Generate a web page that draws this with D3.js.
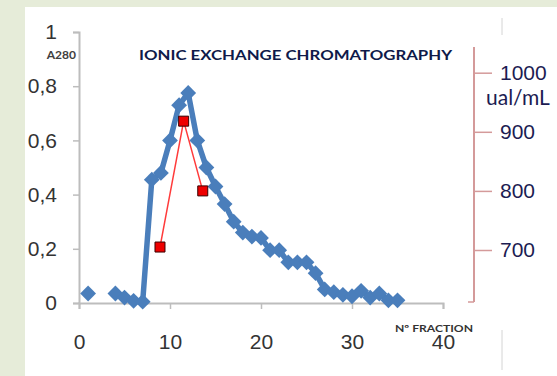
<!DOCTYPE html>
<html>
<head>
<meta charset="utf-8">
<script src="https://cdn.jsdelivr.net/npm/d3@7"></script>
<style>
  html, body { margin: 0; padding: 0; background: #e6ecd9; }
  svg { display: block; }
</style>
</head>
<body>
<div id="chart"></div>
<script>
// fraction numbers and A280 readings (null = not measured)
var fractions = [1, 2, 3, 4, 5, 6, 7, 8, 9, 10, 11, 12, 13, 14, 15, 16, 17, 18,
                 19, 20, 21, 22, 23, 24, 25, 26, 27, 28, 29, 30, 31, 32, 33, 34, 35];
var a280 = [0.035, null, null, 0.035, 0.02, 0.008, 0.005, 0.455, 0.48, 0.60, 0.73, 0.775,
            0.60, 0.50, 0.43, 0.365, 0.30, 0.26, 0.245, 0.24, 0.195, 0.195, 0.15, 0.15,
            0.15, 0.11, 0.05, 0.04, 0.03, 0.025, 0.045, 0.02, 0.035, 0.01, 0.01];

// activity (ual/mL) on the right axis
var activityFractions = [8.9, 11.5, 13.6];
var activity = [705, 918, 800];

var xTicks = [0, 10, 20, 30, 40];
var yTicks = [0, 0.2, 0.4, 0.6, 0.8, 1];
var y2Ticks = [700, 800, 900, 1000];

document.addEventListener('DOMContentLoaded', function () {
    var W = 557, H = 376;

    var svg = d3.select("#chart")
        .append("svg")
        .attr("width", W)
        .attr("height", H)
        .style("font-family", "Lato, 'Open Sans', sans-serif");

    // white slide panel
    svg.append("rect")
        .attr("x", 25).attr("y", 7)
        .attr("width", W - 25).attr("height", H - 7)
        .attr("fill", "#ffffff");

    // faint frame lines on the right of the slide
    svg.append("line").attr("x1", 502).attr("x2", 502).attr("y1", 18).attr("y2", 35)
        .attr("stroke", "#d4d4d4").attr("stroke-width", 1);
    svg.append("line").attr("x1", 502).attr("x2", 502).attr("y1", 330).attr("y2", 370)
        .attr("stroke", "#d4d4d4").attr("stroke-width", 1);

    var x = d3.scaleLinear().domain([0, 40]).range([79, 443]);
    var y = d3.scaleLinear().domain([0, 1]).range([303, 32]);
    var y2 = d3.scaleLinear().domain([700, 1000]).range([250, 72.7]);

    var comma = function(d) { return d === 0 ? "0" : d === 1 ? "1" : d.toFixed(1).replace(".", ","); };

    // left axis
    var yAxis = svg.append("g")
        .attr("transform", "translate(" + x(0) + ",0)")
        .call(d3.axisLeft(y).tickValues(yTicks).tickFormat(comma).tickSize(6).tickPadding(16));
    yAxis.select(".domain").attr("stroke", "#bdbdbd").attr("stroke-width", 2);
    yAxis.selectAll(".tick line").attr("stroke", "#bdbdbd").attr("stroke-width", 1.5);
    yAxis.selectAll(".tick text").attr("fill", "#333333").style("font-size", "21px");

    // bottom axis
    var xAxis = svg.append("g")
        .attr("transform", "translate(0," + y(0) + ")")
        .call(d3.axisBottom(x).tickValues(xTicks).tickSize(6).tickPadding(25));
    xAxis.select(".domain").attr("stroke", "#bdbdbd").attr("stroke-width", 2);
    xAxis.selectAll(".tick line").attr("stroke", "#bdbdbd").attr("stroke-width", 1.5);
    xAxis.selectAll(".tick text").attr("fill", "#333333").style("font-size", "21px");

    // right axis
    var y2Axis = svg.append("g")
        .attr("transform", "translate(474,0)")
        .call(d3.axisRight(y2).tickValues(y2Ticks).tickFormat(d3.format("d")).tickSize(18).tickPadding(8));
    y2Axis.select(".domain").remove();
    y2Axis.append("line")
        .attr("x1", 0).attr("x2", 0)
        .attr("y1", 47).attr("y2", 302)
        .attr("stroke", "#d49a9a").attr("stroke-width", 2);
    y2Axis.append("line")
        .attr("x1", -6).attr("x2", 0)
        .attr("y1", 302).attr("y2", 302)
        .attr("stroke", "#d49a9a").attr("stroke-width", 1.5);
    y2Axis.selectAll(".tick line").attr("stroke", "#d49a9a").attr("stroke-width", 1.5);
    y2Axis.selectAll(".tick text").attr("fill", "#1c1c52").style("font-size", "21px");

    svg.append("text")
        .attr("x", 486).attr("y", 105)
        .attr("fill", "#1c1c52")
        .style("font-size", "21px")
        .text("ual/mL");

    // labels
    svg.append("text")
        .attr("x", 76).attr("y", 59)
        .attr("text-anchor", "end")
        .attr("fill", "#404040")
        .style("font-size", "12px")
        .style("font-weight", "bold")
        .text("A280");

    svg.append("text")
        .attr("x", 139).attr("y", 60)
        .attr("fill", "#0f1a4a")
        .style("font-size", "13px")
        .style("font-weight", "bold")
        .attr("textLength", 313)
        .attr("lengthAdjust", "spacingAndGlyphs")
        .text("IONIC EXCHANGE CHROMATOGRAPHY");

    svg.append("text")
        .attr("x", 395).attr("y", 332)
        .attr("fill", "#333333")
        .style("font-size", "10px")
        .style("font-weight", "bold")
        .attr("textLength", 78)
        .attr("lengthAdjust", "spacingAndGlyphs")
        .text("Nº FRACTION");

    // A280 series
    var blue = "#4a7ebb";
    var pts = fractions.map(function(f, i) { return { f: f, v: a280[i] }; });

    var line = d3.line()
        .defined(function(d) { return d.v !== null; })
        .x(function(d) { return x(d.f); })
        .y(function(d) { return y(d.v); });

    svg.append("path")
        .datum(pts)
        .attr("d", line)
        .attr("fill", "none")
        .attr("stroke", blue)
        .attr("stroke-width", 5.5)
        .attr("stroke-linejoin", "round");

    svg.selectAll(".diamond")
        .data(pts.filter(function(d) { return d.v !== null; }))
        .enter().append("path")
        .attr("class", "diamond")
        .attr("d", d3.symbol().type(d3.symbolSquare).size(125))
        .attr("transform", function(d) { return "translate(" + x(d.f) + "," + y(d.v) + ") rotate(45)"; })
        .attr("fill", blue);

    // activity series
    var act = activityFractions.map(function(f, i) { return { f: f, v: activity[i] }; });

    svg.append("path")
        .datum(act)
        .attr("d", d3.line()
            .x(function(d) { return x(d.f); })
            .y(function(d) { return y2(d.v); }))
        .attr("fill", "none")
        .attr("stroke", "#ff3b3b")
        .attr("stroke-width", 1.5);

    svg.selectAll(".sq")
        .data(act)
        .enter().append("path")
        .attr("class", "sq")
        .attr("d", d3.symbol().type(d3.symbolSquare).size(100))
        .attr("transform", function(d) { return "translate(" + x(d.f) + "," + y2(d.v) + ")"; })
        .attr("fill", "#ee0000")
        .attr("stroke", "#3a0000")
        .attr("stroke-width", 1);
});
</script>
</body>
</html>
